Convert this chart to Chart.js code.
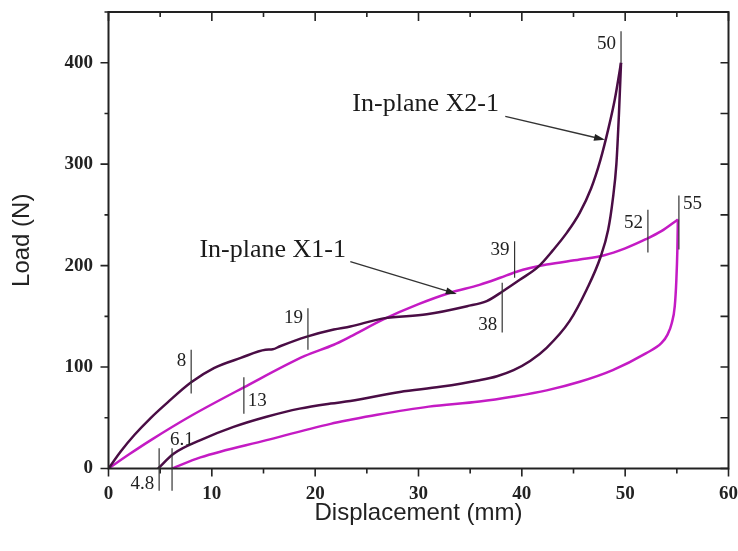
<!DOCTYPE html>
<html lang="en">
<head>
  <meta charset="UTF-8">
  <title>Load vs Displacement</title>
  <script src="https://cdn.jsdelivr.net/npm/chart.js"></script>
  <style>
    html, body { margin: 0; padding: 0; background: #fff; overflow: hidden; }
  </style>
</head>
<body>

<canvas id="loadChart" width="738" height="551"></canvas>

<script>
// tick labels
var xTicks = [0, 10, 20, 30, 40, 50, 60];
var yTicks = [0, 100, 200, 300, 400];

// In-plane X2-1 : loading branch, then unloading branch
var x2LoadX = [0, 1.2, 2.5, 4.1, 5.7, 8.0, 10.2, 12.8, 15.2, 15.9, 16.6, 19.2, 21.8, 23.4, 26.6, 30.8, 34.7, 36.6, 38.2, 39.8, 41.6, 43.0, 44.4, 45.6, 46.7, 47.6, 48.4, 49.0, 49.6];
var x2LoadY = [0, 17, 33, 50, 65, 85, 99, 109, 117, 117.5, 120.5, 130, 137, 140, 148, 152, 160, 165, 175, 186, 199, 215, 233, 252, 276, 304, 336, 364, 400];
var x2UnloadX = [49.6, 49.4, 49.15, 48.8, 48.35, 47.6, 46.3, 44.6, 42.4, 40.8, 39.2, 37.6, 35.9, 32.1, 28.2, 23.4, 21.5, 18.5, 15.3, 12.1, 8.9, 6.3, 4.8];
var x2UnloadY = [400, 350, 300, 265, 235, 208, 177, 145, 119, 106, 97, 91, 87, 80.5, 75.5, 66.5, 64, 59, 51, 41, 28, 14.5, 0];

// In-plane X1-1
var x1LoadX = [0, 2.0, 4.1, 8.0, 13.1, 19.0, 21.8, 23.4, 26.6, 30.0, 33.0, 35.9, 37.9, 39.5, 42.4, 45.6, 47.9, 50.0, 52.0, 53.5, 55.1];
var x1LoadY = [0, 14, 28, 52, 80, 111, 122, 130, 147, 162, 173, 181, 188, 194, 201, 206, 210, 217, 226, 234, 245.5];
var x1UnloadX = [55.1, 55.05, 54.95, 54.8, 54.5, 54.1, 53.5, 52.0, 48.8, 45.6, 42.4, 39.2, 35.9, 31.0, 26.0, 23.4, 21.5, 15.3, 8.9, 6.15];
var x1UnloadY = [245.5, 215, 185, 160, 143, 132, 123.5, 113.5, 97, 85.5, 77, 71, 66, 61, 53, 48, 44, 28, 11, 0];

// displacement markers (label, where the bar sits, bar top/bottom in N)
var markerText = ['4.8', '6.1', '8', '13', '19', '38', '39', '50', '52', '55'];
var markerX    = [4.9, 6.15, 8.0, 13.1, 19.3, 38.1, 39.3, 49.6, 52.2, 55.2];
var markerTop  = [20, 20, 117, 90, 158, 183, 224, 431, 255, 269];
var markerBot  = [-22, -22, 74, 54, 117, 134, 188, 400, 213, 216];

var DARK = '#4a0d45';
var MAGENTA = '#c41bc4';

function pts(xs, ys) {
  return xs.map(function (x, i) { return { x: x, y: ys[i] }; });
}

function line(xs, ys, color) {
  return {
    data: pts(xs, ys),
    showLine: true,
    borderColor: color,
    borderWidth: 2.5,
    pointRadius: 0,
    cubicInterpolationMode: 'monotone',
    fill: false
  };
}

// frame, minor ticks, markers and the two arrow notes
var decor = {
  id: 'decor',
  afterDatasetsDraw: function (chart) {
    var ctx = chart.ctx, a = chart.chartArea, xs = chart.scales.x, ys = chart.scales.y;
    ctx.save();
    ctx.strokeStyle = '#222';
    ctx.lineWidth = 2;
    ctx.strokeRect(a.left, a.top, a.right - a.left, a.bottom - a.top);

    ctx.lineWidth = 1.6;
    ctx.beginPath();
    for (var v = 0; v <= 60; v += 5) {
      var px = xs.getPixelForValue(v), big = v % 10 === 0;
      ctx.moveTo(px, a.bottom); ctx.lineTo(px, a.bottom + (big ? 8 : 5));
      ctx.moveTo(px, a.top); ctx.lineTo(px, a.top + (big ? 9 : 5));
    }
    for (var w = 0; w <= 450; w += 50) {
      var py = ys.getPixelForValue(w), bigY = w % 100 === 0;
      ctx.moveTo(a.left, py); ctx.lineTo(a.left - (bigY ? 8 : 4), py);
      ctx.moveTo(a.right, py); ctx.lineTo(a.right - 8, py);
    }
    ctx.stroke();

    // marker bars + numbers
    var side = ['left', 'above', 'left', 'right', 'left', 'left', 'left', 'left', 'left', 'right'];
    var labY = [-15, 28, 106, 67, 148.5, 141.6, 215.6, 418, 242, 261];
    ctx.strokeStyle = '#333';
    ctx.lineWidth = 1.2;
    ctx.fillStyle = '#222';
    ctx.font = '19px "Liberation Serif"';
    ctx.textBaseline = 'middle';
    markerText.forEach(function (t, i) {
      var mx = xs.getPixelForValue(markerX[i]);
      ctx.beginPath();
      ctx.moveTo(mx, ys.getPixelForValue(markerTop[i]));
      ctx.lineTo(mx, ys.getPixelForValue(markerBot[i]));
      ctx.stroke();
      var ly = ys.getPixelForValue(labY[i]);
      if (side[i] === 'left') { ctx.textAlign = 'right'; ctx.fillText(t, mx - 5, ly); }
      else if (side[i] === 'right') { ctx.textAlign = 'left'; ctx.fillText(t, mx + 4, ly); }
      else { ctx.textAlign = 'left'; ctx.fillText(t, mx - 2, ly); }
    });

    // notes with arrows
    var notes = [
      { text: 'In-plane X2-1', tx: 23.6, ty: 352, x0: 38.4, y0: 347, x1: 48.05, y1: 324 },
      { text: 'In-plane X1-1', tx: 8.8, ty: 208.5, x0: 23.4, y0: 204, x1: 33.7, y1: 172 }
    ];
    ctx.font = '26px "Liberation Serif"';
    ctx.textAlign = 'left';
    ctx.textBaseline = 'alphabetic';
    notes.forEach(function (n) {
      ctx.fillStyle = '#1a1a1a';
      ctx.fillText(n.text, xs.getPixelForValue(n.tx), ys.getPixelForValue(n.ty));
      var sx = xs.getPixelForValue(n.x0), sy = ys.getPixelForValue(n.y0);
      var ex = xs.getPixelForValue(n.x1), ey = ys.getPixelForValue(n.y1);
      var ang = Math.atan2(ey - sy, ex - sx);
      ctx.strokeStyle = '#333';
      ctx.lineWidth = 1.3;
      ctx.beginPath();
      ctx.moveTo(sx, sy);
      ctx.lineTo(ex - 8 * Math.cos(ang), ey - 8 * Math.sin(ang));
      ctx.stroke();
      ctx.fillStyle = '#222';
      ctx.beginPath();
      ctx.moveTo(ex, ey);
      ctx.lineTo(ex - 11 * Math.cos(ang) + 3.5 * Math.sin(ang), ey - 11 * Math.sin(ang) - 3.5 * Math.cos(ang));
      ctx.lineTo(ex - 11 * Math.cos(ang) - 3.5 * Math.sin(ang), ey - 11 * Math.sin(ang) + 3.5 * Math.cos(ang));
      ctx.closePath();
      ctx.fill();
    });
    ctx.restore();
  }
};

var tickFont = { family: 'Liberation Serif', size: 19, weight: 'bold' };
var titleFont = { family: 'Liberation Sans', size: 24 };

new Chart(document.getElementById('loadChart'), {
  type: 'scatter',
  data: {
    datasets: [
      line(x2LoadX, x2LoadY, DARK),
      line(x2UnloadX, x2UnloadY, DARK),
      line(x1LoadX, x1LoadY, MAGENTA),
      line(x1UnloadX, x1UnloadY, MAGENTA)
    ]
  },
  options: {
    responsive: false,
    animation: false,
    layout: { padding: { top: 12, right: 9.5, left: 0, bottom: 0 } },
    plugins: { legend: { display: false }, tooltip: { enabled: false } },
    scales: {
      x: {
        type: 'linear', min: 0, max: 60,
        grid: { display: false, drawTicks: false },
        border: { display: false },
        ticks: { autoSkip: false, maxRotation: 0, padding: 14, color: '#222', font: tickFont },
        title: { display: true, text: 'Displacement (mm)', color: '#222', font: titleFont, padding: { top: 0, bottom: 23 } },
        afterBuildTicks: function (s) { s.ticks = xTicks.map(function (v) { return { value: v }; }); },
        afterFit: function (s) { s.height = 82.5; s.paddingLeft = 0; s.paddingRight = 0; }
      },
      y: {
        type: 'linear', min: 0, max: 450,
        grid: { display: false, drawTicks: false },
        border: { display: false },
        ticks: { autoSkip: false, padding: 15.5, color: '#222', font: tickFont },
        title: { display: true, text: 'Load (N)', color: '#222', font: titleFont, padding: { top: 8, bottom: 0 } },
        afterBuildTicks: function (s) { s.ticks = yTicks.map(function (v) { return { value: v }; }); },
        afterFit: function (s) { s.width = 108.5; s.paddingTop = 0; s.paddingBottom = 0; }
      }
    }
  },
  plugins: [decor]
});
</script>

</body>
</html>
